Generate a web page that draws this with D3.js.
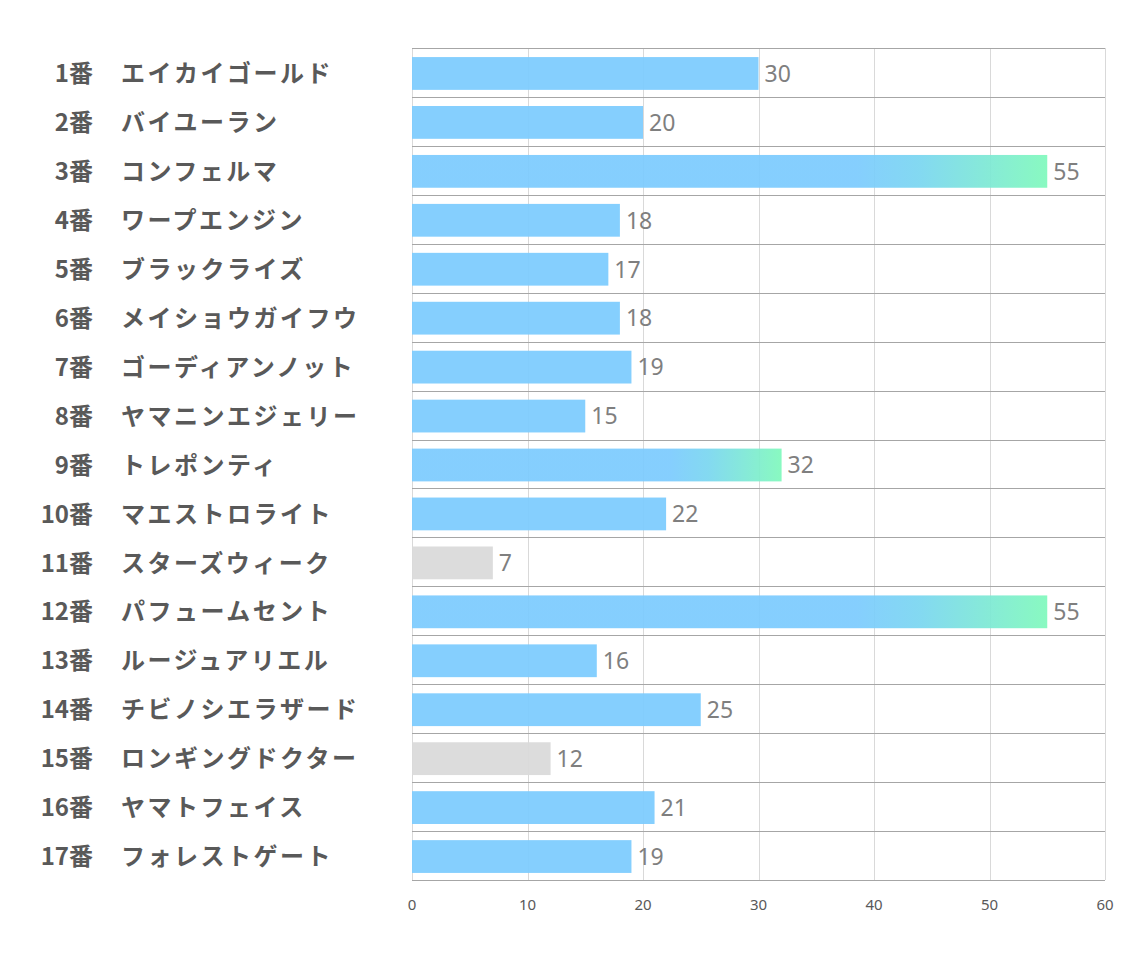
<!DOCTYPE html>
<html>
<head>
<meta charset="utf-8">
<script src="https://cdn.jsdelivr.net/npm/d3@7"></script>
<style>
  body { margin: 0; background: #fff; }
</style>
</head>
<body>
<div id="chart"></div>
<script>
// data
var numbers = ["1番","2番","3番","4番","5番","6番","7番","8番","9番","10番","11番","12番","13番","14番","15番","16番","17番"];
var horses = ["エイカイゴールド","バイユーラン","コンフェルマ","ワープエンジン","ブラックライズ","メイショウガイフウ","ゴーディアンノット","ヤマニンエジェリー","トレポンティ","マエストロライト","スターズウィーク","パフュームセント","ルージュアリエル","チビノシエラザード","ロンギングドクター","ヤマトフェイス","フォレストゲート"];
var values = [30,20,55,18,17,18,19,15,32,22,7,55,16,25,12,21,19];
// kind of bar: 0 = blue, 1 = gradient, 2 = grey
var kinds = [0,0,1,0,0,0,0,0,1,0,2,1,0,0,2,0,0];
var ticks = [0,10,20,30,40,50,60];

var width = 1134, height = 964;
var plot = { left: 412, right: 1105, top: 48, bottom: 880 };

var svg = d3.select("#chart").append("svg")
    .attr("width", width)
    .attr("height", height);

var defs = svg.append("defs");
var grad = defs.append("linearGradient")
    .attr("id", "hot")
    .attr("x1", "0").attr("x2", "1").attr("y1", "0").attr("y2", "0");
grad.append("stop").attr("offset", "0").attr("stop-color", "#7ccbfe");
grad.append("stop").attr("offset", "0.7").attr("stop-color", "#7ccbfe");
grad.append("stop").attr("offset", "0.8").attr("stop-color", "#7ad6f0");
grad.append("stop").attr("offset", "1").attr("stop-color", "#80f9bc");

var x = d3.scaleLinear().domain([0, 60]).range([plot.left, plot.right]);
var y = d3.scaleBand()
    .domain(d3.range(values.length))
    .range([plot.top, plot.bottom])
    .paddingInner(0.33)
    .paddingOuter(0.165);

var step = y.step();

// vertical grid
svg.append("g").selectAll("line")
    .data(ticks)
    .enter().append("line")
    .attr("x1", d => Math.round(x(d)) + 0.5)
    .attr("x2", d => Math.round(x(d)) + 0.5)
    .attr("y1", plot.top)
    .attr("y2", plot.bottom)
    .attr("stroke", "#d9d9d9")
    .attr("stroke-width", 1);

// bars
svg.append("g").selectAll("rect")
    .data(values)
    .enter().append("rect")
    .attr("x", x(0))
    .attr("y", (d, i) => y(i) + 1)
    .attr("width", d => x(d) - x(0))
    .attr("height", y.bandwidth())
    .attr("fill", (d, i) => kinds[i] == 1 ? "url(#hot)" : (kinds[i] == 2 ? "#d9d9d9" : "#7ccbfe"))
    .attr("opacity", 0.93);

// row separators
var seps = d3.range(values.length + 1);
svg.append("g").selectAll("line")
    .data(seps)
    .enter().append("line")
    .attr("x1", plot.left)
    .attr("x2", plot.right)
    .attr("y1", d => Math.round(plot.top + d * step) + 0.5)
    .attr("y2", d => Math.round(plot.top + d * step) + 0.5)
    .attr("stroke", "#a6a6a6")
    .attr("stroke-width", 1);

// value labels
svg.append("g").selectAll("text")
    .data(values)
    .enter().append("text")
    .attr("x", d => x(d) + 6)
    .attr("y", (d, i) => y(i) + y.bandwidth() / 2 + 1)
    .attr("dy", "0.36em")
    .attr("fill", "#7f7f7f")
    .style("font-family", "'Noto Sans', 'Open Sans', sans-serif")
    .style("font-size", "23px")
    .text(d => d);

// row labels
var lab = svg.append("g")
    .style("font-family", "'Noto Sans CJK JP', sans-serif")
    .style("font-weight", "bold")
    .style("font-size", "24px")
    .attr("fill", "#595959");

lab.selectAll(".num")
    .data(numbers)
    .enter().append("text")
    .attr("class", "num")
    .attr("x", 93)
    .attr("y", (d, i) => y(i) + y.bandwidth() / 2 + 1)
    .attr("dy", "0.36em")
    .attr("text-anchor", "end")
    .text(d => d);

lab.selectAll(".name")
    .data(horses)
    .enter().append("text")
    .attr("class", "name")
    .attr("x", 121)
    .attr("y", (d, i) => y(i) + y.bandwidth() / 2 + 1)
    .attr("dy", "0.36em")
    .style("letter-spacing", "2.5px")
    .text(d => d);

// x axis tick labels
svg.append("g").selectAll("text")
    .data(ticks)
    .enter().append("text")
    .attr("x", d => x(d))
    .attr("y", 910)
    .attr("text-anchor", "middle")
    .attr("fill", "#595959")
    .style("font-family", "'Noto Sans', sans-serif")
    .style("font-size", "15px")
    .text(d => d);
</script>
</body>
</html>
